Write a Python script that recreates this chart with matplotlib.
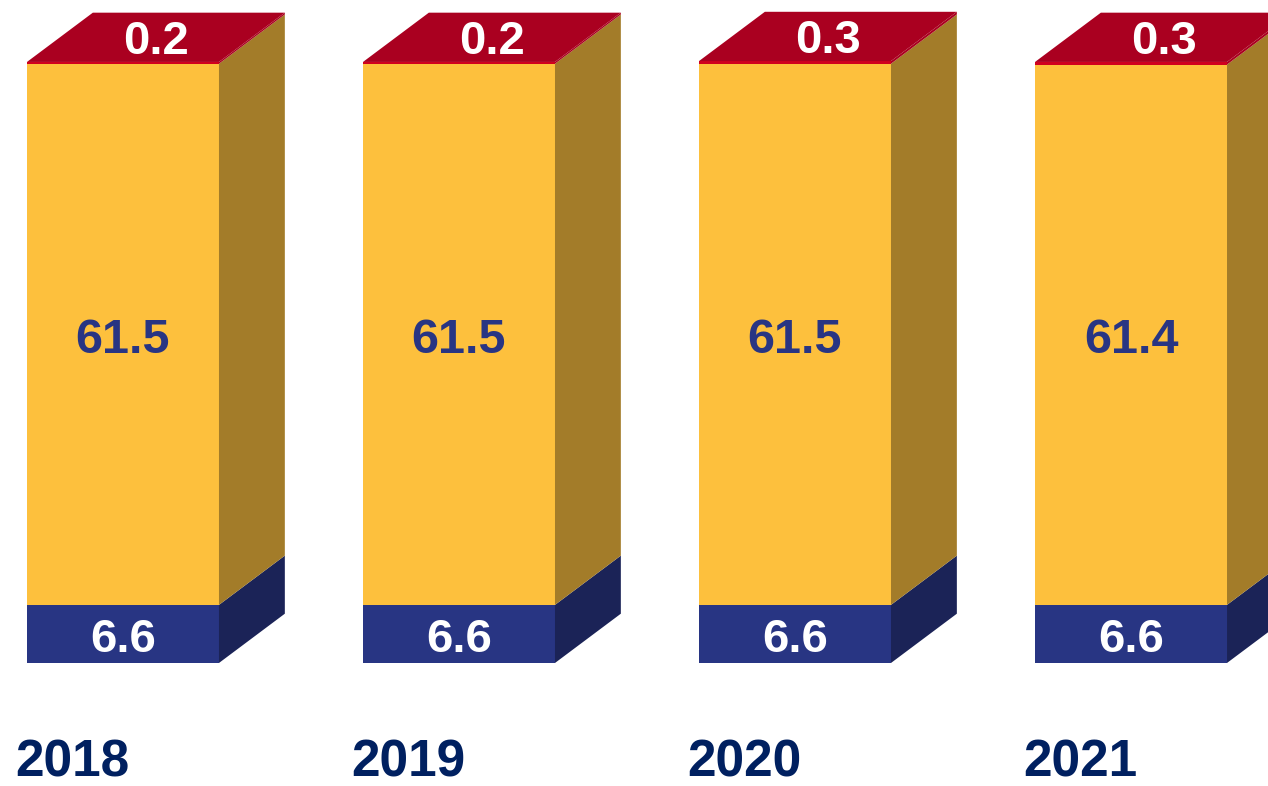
import matplotlib.pyplot as plt
from matplotlib.patches import Polygon

years = ['2018', '2019', '2020', '2021']
blue_vals = [6.6, 6.6, 6.6, 6.6]
yellow_vals = [61.5, 61.5, 61.5, 61.4]
red_vals = [0.2, 0.2, 0.3, 0.3]

# colours: front face, side face
blue_front, blue_side = '#283583', '#1B2357'
yellow_front, yellow_side = '#FDC03D', '#A37C29'
red_front, red_top = '#D0001E', '#AA0020'

width = 0.5714   # bar width in category units
dx = 0.196       # depth offset (x)
dy = 5.6         # depth offset (y, value units)
px = 1 / 8.8     # one pixel in value units

fig = plt.figure(figsize=(12.68, 7.86), dpi=100)
ax = fig.add_axes([0, 0, 1, 1])
ax.set_xlim(-0.366, 3.4077)
ax.set_ylim(-13.98, 75.34)
ax.axis('off')


def side(x, y0, y1, color):
    # right side face of one segment
    pts = [(x, y0), (x + dx, y0 + dy), (x + dx, y1 + dy), (x, y1)]
    ax.add_patch(Polygon(pts, closed=True, facecolor=color, edgecolor='none'))


for i, yr in enumerate(years):
    b, y, r = blue_vals[i], yellow_vals[i], red_vals[i]
    left = i - width / 2
    right = i + width / 2
    ax.bar(i, b, width=width, color=blue_front, linewidth=0)
    ax.bar(i, y, bottom=b, width=width, color=yellow_front, linewidth=0)
    ax.bar(i, r, bottom=b + y, width=width, color=red_front, linewidth=0)
    side(right, 0, b, blue_side)
    side(right, b, b + y, yellow_side)
    side(right, b + y, b + y + r, red_top)
    top = b + y + r
    ax.add_patch(Polygon([(left, top), (right, top), (right + dx, top + dy),
                          (left + dx, top + dy)], closed=True,
                         facecolor=red_top, edgecolor='none'))

    ax.text(i, b / 2 - 6 * px, f'{b}', ha='center', va='center',
            color='white', fontsize=34, fontweight='bold',
            family='Liberation Sans')
    ax.text(i, b + y / 2 - 6 * px, f'{y}', ha='center', va='center',
            color='#283583', fontsize=35, fontweight='bold',
            family='Liberation Sans')
    ax.text(i + dx / 2, top + dy / 2 - 5 * px, f'{r}',
            ha='center', va='center', color='white', fontsize=34,
            fontweight='bold', family='Liberation Sans')
    ax.text(left - 0.036, -114 * px, yr, ha='left', va='baseline',
            color='#002060', fontsize=37, fontweight='bold',
            family='Liberation Sans')

fig.savefig('out.png', dpi=100)
